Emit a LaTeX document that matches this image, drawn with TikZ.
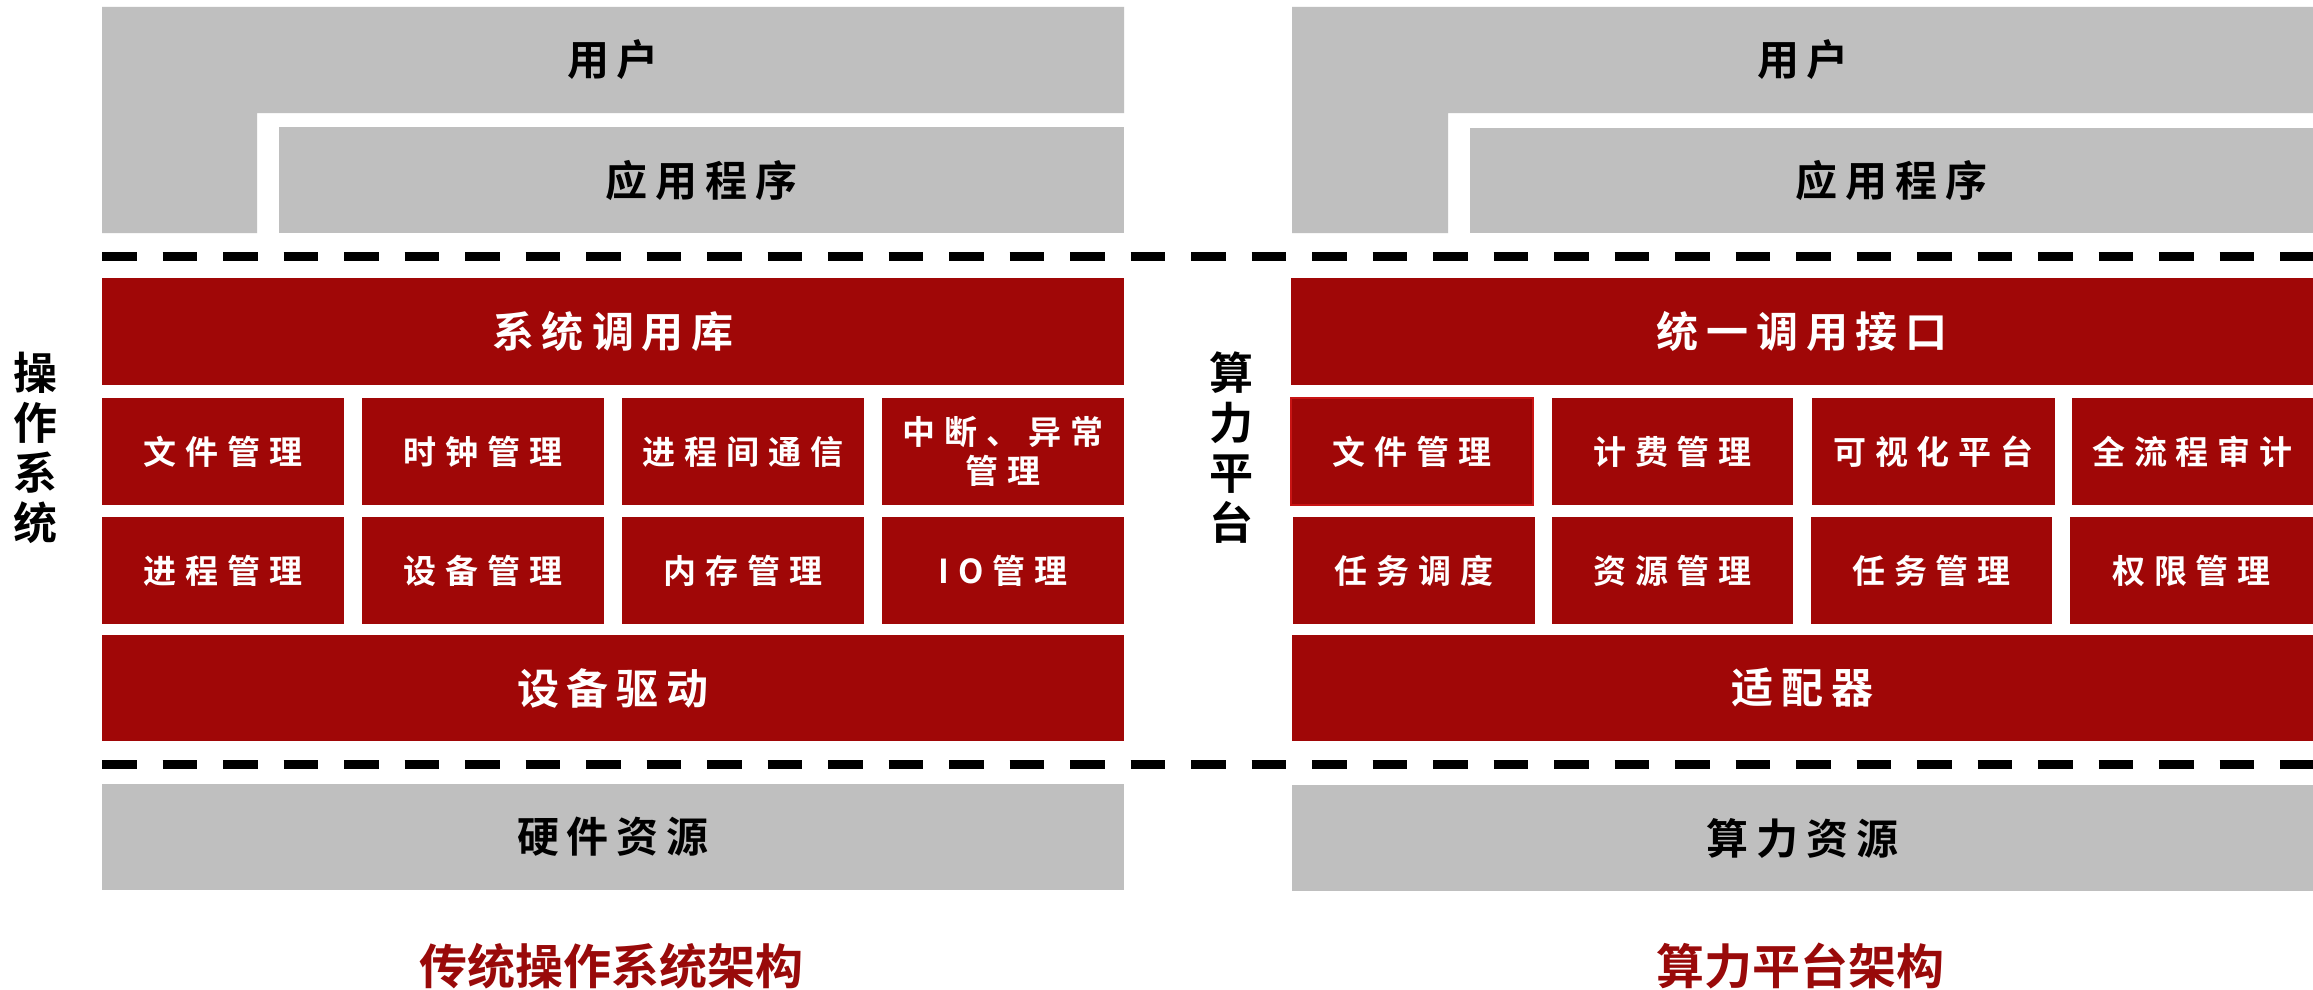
\documentclass[tikz,border=0pt]{standalone}
\usepackage{fontspec}
\newfontfamily\cjkB[LetterSpace=19]{Noto Sans CJK SC Bold}
\newfontfamily\cjkS[LetterSpace=27]{Noto Sans CJK SC Bold}
\newfontfamily\cjkT{Noto Sans CJK SC Bold}
\definecolor{boxred}{RGB}{160,7,7}
\definecolor{boxgray}{RGB}{191,191,191}
\definecolor{titlered}{RGB}{153,10,10}
\definecolor{edgered}{RGB}{200,20,20}
\newcommand\mybox[6]{\node[#1, minimum width={#4-#2}, minimum height={#5-#3}] (#6) at (#2,#3)}
\begin{document}
\begin{tikzpicture}[x=1pt,y=-1pt,
  base/.style={draw=none, inner sep=0pt, outer sep=0pt, anchor=north west, align=center},
  redbox/.style={base, fill=boxred, text=white},
  graybox/.style={base, fill=boxgray, text=black},
  bigtxt/.style={font=\cjkB\fontsize{42}{48}\selectfont},
  smalltxt/.style={font=\cjkS\fontsize{33}{39}\selectfont},
  sidetxt/.style={font=\cjkT\fontsize{44}{50}\selectfont, align=center, inner sep=0pt, text=black},
  titletxt/.style={font=\cjkT\fontsize{48}{56}\selectfont, inner sep=0pt, text=titlered},
  dashline/.style={line width=8.7pt, dash pattern=on 34.5pt off 26pt, black}
]
\useasboundingbox[fill=white] (0,0) rectangle (2313,990);

% ---------------- left panel ----------------
\fill[boxgray] (102,7) -- (1124,7) -- (1124,113) -- (257,113) -- (257,233) -- (102,233) -- cycle;
\node[bigtxt, inner sep=0pt] (userL) at (613,60) {用户};
\mybox{graybox, bigtxt}{279}{127}{1124}{233}{appL} {应用程序};

\coordinate (d1a) at (102,256.5);
\coordinate (d1b) at (2313,256.5);
\draw[dashline] (d1a) -- (d1b);

\mybox{redbox, bigtxt}{102}{278}{1124}{385}{sysL} {系统调用库};

\mybox{redbox, smalltxt}{102}{398}{344}{505}{l11} {文件管理};
\mybox{redbox, smalltxt}{362}{398}{604}{505}{l12} {时钟管理};
\mybox{redbox, smalltxt}{622}{398}{864}{505}{l13} {进程间通信};
\mybox{redbox, smalltxt}{882}{398}{1124}{505}{l14} {中断、异常\\[-0.5pt]管理};

\mybox{redbox, smalltxt}{102}{517}{344}{624}{l21} {进程管理};
\mybox{redbox, smalltxt}{362}{517}{604}{624}{l22} {设备管理};
\mybox{redbox, smalltxt}{622}{517}{864}{624}{l23} {内存管理};
\mybox{redbox, smalltxt}{882}{517}{1124}{624}{l24} {IO管理};

\mybox{redbox, bigtxt}{102}{635}{1124}{741}{drvL} {设备驱动};

\coordinate (d2a) at (102,764.7);
\coordinate (d2b) at (2313,764.7);
\draw[dashline] (d2a) -- (d2b);

\mybox{graybox, bigtxt}{102}{784}{1124}{890}{hwL} {硬件资源};

\node[sidetxt] (osL) at (35,448) {操\\作\\系\\统};
\node[titletxt] (titleL) at (611,966) {传统操作系统架构};

% ---------------- right panel ----------------
\fill[boxgray] (1292,7) -- (2313,7) -- (2313,113) -- (1448,113) -- (1448,233) -- (1292,233) -- cycle;
\node[bigtxt, inner sep=0pt] (userR) at (1803,60) {用户};
\mybox{graybox, bigtxt}{1470}{128}{2313}{233}{appR} {应用程序};

\mybox{redbox, bigtxt}{1291}{278}{2313}{385}{apiR} {统一调用接口};

\mybox{redbox, smalltxt, draw=edgered, line width=1.2pt}{1291}{398}{1533}{505}{r11} {文件管理};
\mybox{redbox, smalltxt}{1552}{398}{1793}{505}{r12} {计费管理};
\mybox{redbox, smalltxt}{1812}{398}{2055}{505}{r13} {可视化平台};
\mybox{redbox, smalltxt}{2072}{398}{2313}{505}{r14} {全流程审计};

\mybox{redbox, smalltxt}{1293}{517}{1535}{624}{r21} {任务调度};
\mybox{redbox, smalltxt}{1552}{517}{1793}{624}{r22} {资源管理};
\mybox{redbox, smalltxt}{1811}{517}{2052}{624}{r23} {任务管理};
\mybox{redbox, smalltxt}{2070}{517}{2313}{624}{r24} {权限管理};

\mybox{redbox, bigtxt}{1292}{635}{2313}{741}{adpR} {适配器};

\mybox{graybox, bigtxt}{1292}{785}{2313}{891}{hwR} {算力资源};

\node[sidetxt] (cpR) at (1231,448) {算\\力\\平\\台};
\node[titletxt] (titleR) at (1800,966) {算力平台架构};
\end{tikzpicture}
\end{document}
